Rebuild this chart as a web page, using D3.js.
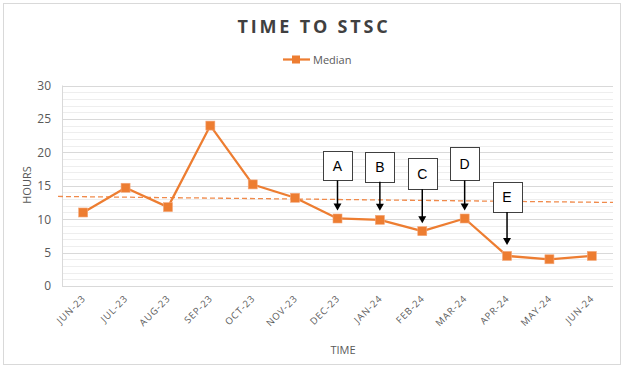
<!DOCTYPE html>
<html>
<head>
<meta charset="utf-8">
<script src="https://cdn.jsdelivr.net/npm/d3@7/dist/d3.min.js"></script>
<style>
  html, body { margin: 0; padding: 0; background: #fff; }
  svg { display: block; }
</style>
</head>
<body>
<svg id="chart" width="624" height="368"></svg>
<script>
// ---- data ----
const months = ["JUN-23","JUL-23","AUG-23","SEP-23","OCT-23","NOV-23","DEC-23","JAN-24","FEB-24","MAR-24","APR-24","MAY-24","JUN-24"];
const median = [11.0, 14.7, 11.8, 24.0, 15.2, 13.2, 10.1, 9.9, 8.2, 10.1, 4.5, 4.0, 4.5];
const yTicks = [0, 5, 10, 15, 20, 25, 30];
const trendEnds = [13.4, 12.5];           // dashed reference line, value at left and right edge
const noteLabels = ["A", "B", "C", "D", "E"];
const noteMonths = ["DEC-23", "JAN-24", "FEB-24", "MAR-24", "APR-24"];

// ---- layout ----
const W = 624, H = 368;
const plot = { left: 62, right: 613, top: 85.5, bottom: 286 };
const orange = "#ED7D31";
const textGray = "#595959";
const noteLayout = [ // box height, gap from box top to point, gap arrow tip to point
  { h: 29, off: 67, gap: 8 },
  { h: 30, off: 68, gap: 9 },
  { h: 31, off: 73, gap: 8 },
  { h: 33, off: 71, gap: 8 },
  { h: 30, off: 74, gap: 11 }
];

const svg = d3.select("#chart");

// outer border
svg.append("rect").attr("x", 3.5).attr("y", 3.5).attr("width", W - 7).attr("height", H - 7)
  .attr("fill", "#fff").attr("stroke", "#d9d9d9").attr("stroke-width", 1);

const x = d3.scaleBand().domain(months).range([plot.left, plot.right]).padding(0);
const cx = d => x(d) + x.bandwidth() / 2;
const y = d3.scaleLinear().domain([0, 30]).range([plot.bottom, plot.top]);

// minor gridlines
svg.append("g").selectAll("line").data(d3.range(0, 31).filter(v => v % 5 !== 0)).join("line")
  .attr("x1", plot.left).attr("x2", plot.right)
  .attr("y1", d => Math.round(y(d)) + 0.5).attr("y2", d => Math.round(y(d)) + 0.5)
  .attr("stroke", "#eeeeee").attr("stroke-width", 1);
// major gridlines
svg.append("g").selectAll("line").data(yTicks).join("line")
  .attr("x1", plot.left).attr("x2", plot.right)
  .attr("y1", d => Math.round(y(d)) + 0.5).attr("y2", d => Math.round(y(d)) + 0.5)
  .attr("stroke", "#d9d9d9").attr("stroke-width", 1);
// left axis line
svg.append("line").attr("x1", plot.left + 0.5).attr("x2", plot.left + 0.5)
  .attr("y1", plot.top).attr("y2", plot.bottom + 0.5)
  .attr("stroke", "#d9d9d9");

// y axis
const yAxis = svg.append("g").attr("transform", `translate(${plot.left},0)`)
  .call(d3.axisLeft(y).tickValues(yTicks).tickSize(0).tickPadding(11));
yAxis.select(".domain").remove();
yAxis.selectAll("text").attr("fill", textGray).attr("font-family", "Open Sans, sans-serif").attr("font-size", 12);

// x axis
const xAxis = svg.append("g").attr("transform", `translate(0,${plot.bottom})`)
  .call(d3.axisBottom(x).tickSize(0).tickPadding(0));
xAxis.select(".domain").remove();
xAxis.selectAll("text")
  .attr("fill", textGray).attr("font-family", "Open Sans, sans-serif").attr("font-size", 9.5)
  .attr("letter-spacing", 0.9)
  .attr("text-anchor", "end")
  .attr("dy", 0)
  .attr("transform", "translate(3,13) rotate(-45)");

// axis titles
svg.append("text").attr("x", 343).attr("y", 354).attr("text-anchor", "middle")
  .attr("fill", textGray).attr("font-family", "Open Sans, sans-serif").attr("font-size", 11)
  .text("TIME");
svg.append("text").attr("transform", "translate(31,185) rotate(-90)").attr("text-anchor", "middle")
  .attr("fill", textGray).attr("font-family", "Open Sans, sans-serif").attr("font-size", 11)
  .text("HOURS");

// title
svg.append("text").attr("x", 314).attr("y", 32.5).attr("text-anchor", "middle")
  .attr("fill", "#404040").attr("font-family", "Open Sans, sans-serif").attr("font-weight", 700)
  .attr("font-size", 18).attr("letter-spacing", 2.8)
  .text("TIME TO STSC");

// legend
const lg = svg.append("g");
lg.append("line").attr("x1", 283).attr("x2", 310).attr("y1", 59.5).attr("y2", 59.5)
  .attr("stroke", orange).attr("stroke-width", 2.25);
lg.append("rect").attr("x", 292).attr("y", 55.5).attr("width", 8).attr("height", 8).attr("fill", orange);
lg.append("text").attr("x", 313).attr("y", 63.5).attr("fill", textGray)
  .attr("font-family", "Open Sans, sans-serif").attr("font-size", 11).text("Median");

// dashed reference line
svg.append("line")
  .attr("x1", plot.left - 4).attr("x2", plot.right)
  .attr("y1", y(trendEnds[0])).attr("y2", y(trendEnds[1]))
  .attr("stroke", "#F08A4B").attr("stroke-width", 1.3).attr("stroke-dasharray", "5,3");

// series line
const pts = months.map((m, i) => ({ m, v: median[i] }));
svg.append("path").datum(pts)
  .attr("d", d3.line().x(d => cx(d.m)).y(d => y(d.v)))
  .attr("fill", "none").attr("stroke", orange).attr("stroke-width", 2.25).attr("stroke-linejoin", "round");
svg.append("g").selectAll("rect").data(pts).join("rect")
  .attr("x", d => cx(d.m) - 4.5).attr("y", d => y(d.v) - 4.5)
  .attr("width", 9).attr("height", 9)
  .attr("fill", orange).attr("stroke", "#F4A77A").attr("stroke-width", 0.6);

// annotations
const notes = noteLabels.map((l, i) => ({ l, m: noteMonths[i], v: median[months.indexOf(noteMonths[i])], ...noteLayout[i] }));
const ng = svg.append("g").selectAll("g").data(notes).join("g");
ng.append("rect")
  .attr("x", d => Math.round(cx(d.m) - 14.5) + 0.5)
  .attr("y", d => Math.round(y(d.v) - d.off) + 0.5)
  .attr("width", 29).attr("height", d => d.h)
  .attr("fill", "#fff").attr("stroke", "#404040").attr("stroke-width", 1);
ng.append("text")
  .attr("x", d => cx(d.m))
  .attr("y", d => y(d.v) - d.off + d.h / 2 + 5)
  .attr("text-anchor", "middle").attr("fill", "#000")
  .attr("font-family", "Liberation Sans, Arial, sans-serif").attr("font-size", 14)
  .text(d => d.l);
ng.append("line")
  .attr("x1", d => cx(d.m)).attr("x2", d => cx(d.m))
  .attr("y1", d => y(d.v) - d.off + d.h).attr("y2", d => y(d.v) - d.gap - 5)
  .attr("stroke", "#000").attr("stroke-width", 1.5);
ng.append("path")
  .attr("d", d => {
    const tx = cx(d.m), ty = y(d.v) - d.gap;
    return `M${tx - 4},${ty - 7} L${tx + 4},${ty - 7} L${tx},${ty} Z`;
  })
  .attr("fill", "#000");
</script>
</body>
</html>
